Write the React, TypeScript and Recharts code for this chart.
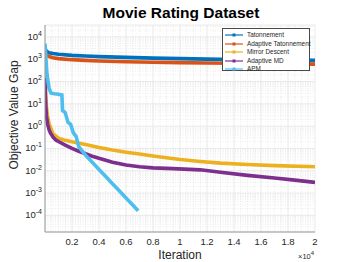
import React from 'react';
import { LineChart, Line, XAxis, YAxis, CartesianGrid, ReferenceLine, Legend } from 'recharts';

const FONT = '"Liberation Sans", Arial, Helvetica, sans-serif';

const tatonnement = [
  { it: 0, v: 3000 }, { it: 100, v: 2300 }, { it: 300, v: 1950 }, { it: 600, v: 1780 },
  { it: 1000, v: 1650 }, { it: 2000, v: 1480 }, { it: 3000, v: 1380 }, { it: 4000, v: 1300 },
  { it: 6000, v: 1200 }, { it: 8000, v: 1120 }, { it: 10000, v: 1060 }, { it: 12000, v: 1010 },
  { it: 14000, v: 970 }, { it: 16000, v: 940 }, { it: 18000, v: 910 }, { it: 20000, v: 880 },
];

const adaptiveTatonnement = [
  { it: 0, v: 1900 }, { it: 100, v: 1550 }, { it: 300, v: 1320 }, { it: 600, v: 1170 },
  { it: 1000, v: 1060 }, { it: 2000, v: 950 }, { it: 3000, v: 880 }, { it: 4000, v: 830 },
  { it: 6000, v: 770 }, { it: 8000, v: 730 }, { it: 10000, v: 700 }, { it: 12000, v: 675 },
  { it: 14000, v: 655 }, { it: 16000, v: 635 }, { it: 18000, v: 615 }, { it: 20000, v: 600 },
];

const mirrorDescent = [
  { it: 0, v: 200 }, { it: 50, v: 30 }, { it: 100, v: 8 }, { it: 200, v: 2.5 }, { it: 300, v: 1.3 },
  { it: 400, v: 0.9 }, { it: 600, v: 0.45 }, { it: 1000, v: 0.29 }, { it: 1500, v: 0.23 },
  { it: 2000, v: 0.2 }, { it: 3000, v: 0.15 }, { it: 4000, v: 0.11 }, { it: 5000, v: 0.085 },
  { it: 6000, v: 0.068 }, { it: 7000, v: 0.056 }, { it: 8000, v: 0.046 }, { it: 9000, v: 0.038 },
  { it: 10000, v: 0.032 }, { it: 11500, v: 0.026 }, { it: 13000, v: 0.022 }, { it: 15000, v: 0.019 },
  { it: 17000, v: 0.017 }, { it: 20000, v: 0.015 },
];

const adaptiveMD = [
  { it: 0, v: 150 }, { it: 30, v: 20 }, { it: 60, v: 8 }, { it: 100, v: 3 }, { it: 200, v: 1.2 },
  { it: 300, v: 0.7 }, { it: 400, v: 0.5 }, { it: 600, v: 0.32 }, { it: 800, v: 0.24 },
  { it: 1100, v: 0.19 }, { it: 1500, v: 0.14 }, { it: 2000, v: 0.1 }, { it: 2500, v: 0.075 },
  { it: 3000, v: 0.058 }, { it: 3500, v: 0.045 }, { it: 4000, v: 0.036 }, { it: 5000, v: 0.024 },
  { it: 6000, v: 0.018 }, { it: 7000, v: 0.015 }, { it: 8000, v: 0.0135 }, { it: 9500, v: 0.0125 },
  { it: 11500, v: 0.011 }, { it: 13000, v: 0.0085 }, { it: 15000, v: 0.0062 }, { it: 17000, v: 0.0047 },
  { it: 18500, v: 0.0038 }, { it: 20000, v: 0.003 },
];

const apm = [
  { it: 0, v: 5000 }, { it: 50, v: 1500 }, { it: 150, v: 200 }, { it: 300, v: 50 }, { it: 450, v: 30 },
  { it: 700, v: 28 }, { it: 1000, v: 27 }, { it: 1250, v: 25 }, { it: 1300, v: 5 }, { it: 1500, v: 4 },
  { it: 1700, v: 1.5 }, { it: 1900, v: 1.2 }, { it: 2100, v: 0.5 }, { it: 2300, v: 0.35 },
  { it: 2500, v: 0.12 }, { it: 3000, v: 0.05 }, { it: 3500, v: 0.024 }, { it: 4000, v: 0.0115 },
  { it: 4500, v: 0.0055 }, { it: 5000, v: 0.0026 }, { it: 5500, v: 0.00126 }, { it: 6000, v: 0.0006 },
  { it: 6500, v: 0.00029 }, { it: 6900, v: 0.00016 },
];

const seriesNames = ['Tatonnement', 'Adaptive Tatonnement', 'Mirror Descent', 'Adaptive MD', 'APM'];
const seriesColors = ['#0072BD', '#D95319', '#EDB120', '#7E2F8E', '#4DBEEE'];
const seriesData = [tatonnement, adaptiveTatonnement, mirrorDescent, adaptiveMD, apm];

const xTicks = [2000, 4000, 6000, 8000, 10000, 12000, 14000, 16000, 18000, 20000];
const yTicks = [1e-4, 1e-3, 1e-2, 1e-1, 1, 10, 100, 1000, 10000];
const yExponents = [-4, -3, -2, -1, 0, 1, 2, 3, 4];

const Y_MIN = 1.8e-5;
const Y_MAX = 3.4e4;

const minorY: number[] = [];
for (let e = -5; e <= 4; e++) {
  for (let m = 2; m <= 9; m++) {
    const v = m * Math.pow(10, e);
    if (v > Y_MIN && v < Y_MAX) minorY.push(v);
  }
}
const minorX: number[] = [];
for (let x = 500; x < 20000; x += 500) {
  if (x % 2000 !== 0) minorX.push(x);
}

const XTick = (props: any) => {
  const { x, y, payload } = props;
  return (
    <text x={x} y={y + 5} textAnchor="middle" fontSize={9.5} fill="#262626" fontFamily={FONT}>
      {String(payload.value / 10000)}
    </text>
  );
};

const YTick = (props: any) => {
  const { x, y, payload } = props;
  const idx = yTicks.indexOf(payload.value);
  const e = idx >= 0 ? yExponents[idx] : Math.round(Math.log10(payload.value));
  return (
    <text x={x + 5} y={y + 3} textAnchor="end" fontSize={9.5} fill="#262626" fontFamily={FONT}>
      10
      <tspan dy={-4} fontSize={7}>{String(e)}</tspan>
    </text>
  );
};

const LegendBox = () => (
  <div
    style={{
      width: 88,
      height: 43,
      border: '1px solid #4a4a4a',
      background: '#fff',
      boxSizing: 'border-box',
      paddingTop: 2,
      fontFamily: FONT,
      fontSize: 6.4,
      color: '#262626',
    }}
  >
    {seriesNames.map((n, i) => (
      <div key={n} style={{ display: 'flex', alignItems: 'center', height: 8.5 }}>
        <svg width={22} height={6} style={{ marginLeft: 2, flexShrink: 0 }}>
          <line x1={0} y1={3} x2={18} y2={3} stroke={seriesColors[i]} strokeWidth={1.2} />
          <rect x={7.5} y={1.5} width={3} height={3} fill={seriesColors[i]} />
        </svg>
        <span style={{ lineHeight: '8px', whiteSpace: 'nowrap' }}>{n}</span>
      </div>
    ))}
  </div>
);

export default function App() {
  return (
    <div style={{ position: 'absolute', left: 0, top: 0, width: 349, height: 262, background: '#fff' }}>
      <LineChart width={349} height={262} margin={{ top: 25, right: 34, left: 0, bottom: 0 }}>
        <CartesianGrid stroke="#e4e4e4" strokeWidth={0.8} />
        {minorY.map((v) => (
          <ReferenceLine key={'my' + v} y={v} stroke="#e2e2e2" strokeWidth={0.7} strokeDasharray="1 1.5" />
        ))}
        {minorX.map((v) => (
          <ReferenceLine key={'mx' + v} x={v} stroke="#e2e2e2" strokeWidth={0.7} strokeDasharray="1 1.5" />
        ))}
        <XAxis
          type="number"
          dataKey="it"
          domain={[0, 20000]}
          ticks={xTicks}
          interval={0}
          allowDataOverflow
          height={30}
          tick={<XTick />}
          tickLine={false}
          stroke="#9a9a9a"
        />
        <YAxis
          type="number"
          dataKey="v"
          scale="log"
          domain={[Y_MIN, Y_MAX]}
          ticks={yTicks}
          interval={0}
          allowDataOverflow
          width={45}
          tick={<YTick />}
          tickLine={false}
          stroke="#9a9a9a"
        />
        <Legend
          layout="horizontal"
          verticalAlign="middle"
          align="center"
          wrapperStyle={{ position: 'absolute', left: 222, top: 28, width: 88, height: 43 }}
          content={() => <LegendBox />}
        />
        {seriesData.map((d, i) => (
          <Line
            key={seriesNames[i]}
            data={d}
            dataKey="v"
            name={seriesNames[i]}
            stroke={seriesColors[i]}
            strokeWidth={3.6}
            dot={false}
            type="linear"
            isAnimationActive={false}
          />
        ))}
      </LineChart>
      <svg
        width={349}
        height={262}
        style={{ position: 'absolute', left: 0, top: 0, pointerEvents: 'none' }}
      >
        <text x={181} y={18} textAnchor="middle" fontSize={15.5} fontWeight="bold" fill="#000" fontFamily={FONT}>
          Movie Rating Dataset
        </text>
        <text
          x={18}
          y={115}
          textAnchor="middle"
          fontSize={12}
          fill="#262626"
          fontFamily={FONT}
          transform="rotate(-90 18 115)"
        >
          Objective Value Gap
        </text>
        <text x={180} y={259} textAnchor="middle" fontSize={12} fill="#262626" fontFamily={FONT}>
          Iteration
        </text>
        <text x={298} y={259} fontSize={7.5} fill="#262626" fontFamily={FONT}>
          ×10
          <tspan dy={-4} fontSize={6}>4</tspan>
        </text>
      </svg>
    </div>
  );
}
